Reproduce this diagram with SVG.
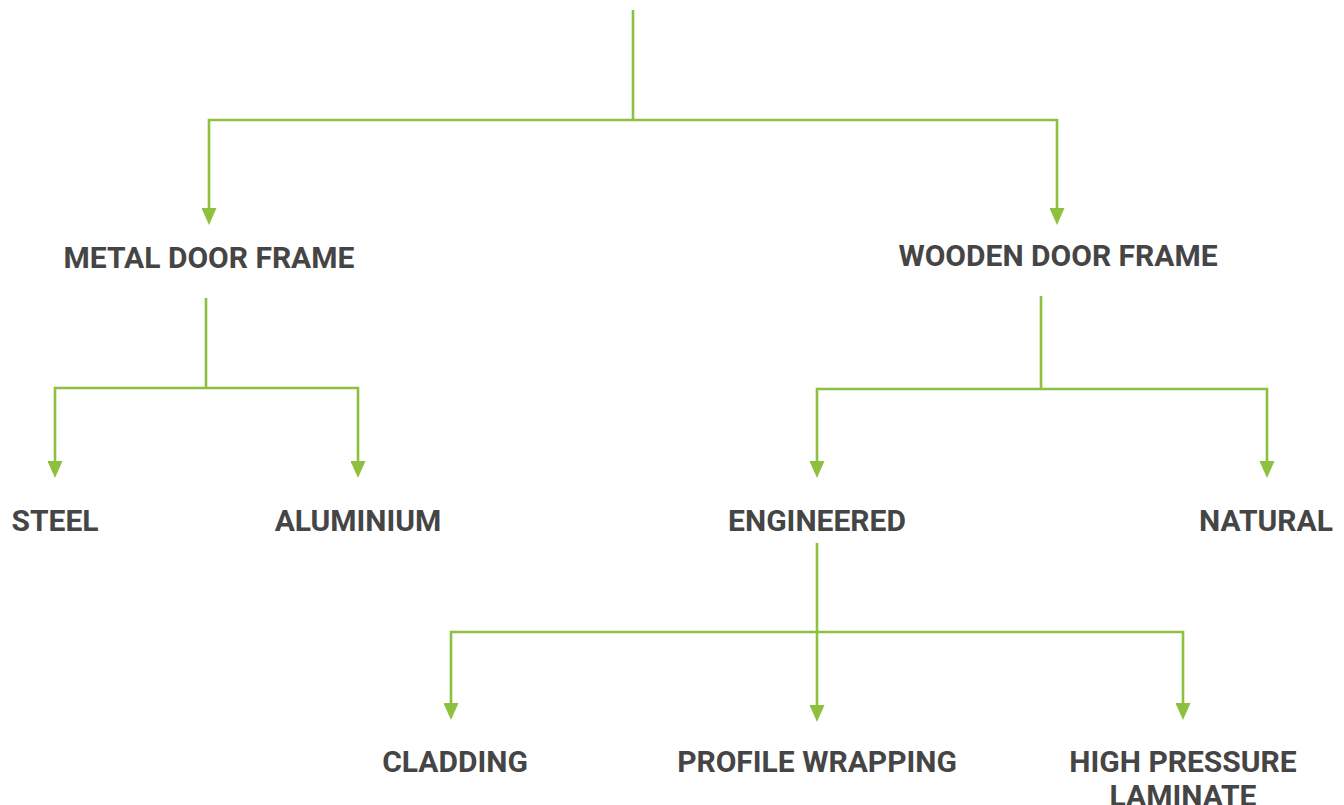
<svg xmlns="http://www.w3.org/2000/svg" width="1344" height="805" viewBox="0 0 1344 805">
<style>
.c{fill:none;stroke:#8dc03f;stroke-width:2.6}
.t{font-family:Roboto,"Liberation Sans",sans-serif;font-weight:bold;font-size:30px;fill:#454545;text-anchor:middle}
</style>
<defs>
<marker id="a" viewBox="0 0 17 15" refX="7" refY="7.5" markerWidth="17" markerHeight="15" markerUnits="userSpaceOnUse" orient="auto">
<polygon points="0,0 17,7.5 0,15" fill="#8dc03f"/>
</marker>
</defs>
<rect width="1344" height="805" fill="#fff"/>
<g id="connectors">
<path class="c" d="M633,10 V120"/>
<path class="c" d="M633,120 H209 V215" marker-end="url(#a)"/>
<path class="c" d="M633,120 H1057 V215" marker-end="url(#a)"/>
<path class="c" d="M206,298 V388"/>
<path class="c" d="M206,388 H55 V468" marker-end="url(#a)"/>
<path class="c" d="M206,388 H358 V468" marker-end="url(#a)"/>
<path class="c" d="M1041,296 V389"/>
<path class="c" d="M1041,389 H817 V468" marker-end="url(#a)"/>
<path class="c" d="M1041,389 H1267 V468" marker-end="url(#a)"/>
<path class="c" d="M817,543 V712" marker-end="url(#a)"/>
<path class="c" d="M817,632 H451 V710" marker-end="url(#a)"/>
<path class="c" d="M817,632 H1183 V710" marker-end="url(#a)"/>
</g>
<g id="metal"><text class="t" x="209" y="268">METAL DOOR FRAME</text></g>
<g id="wooden"><text class="t" x="1058" y="266">WOODEN DOOR FRAME</text></g>
<g id="steel"><text class="t" x="55" y="531">STEEL</text></g>
<g id="aluminium"><text class="t" x="358" y="531">ALUMINIUM</text></g>
<g id="engineered"><text class="t" x="817" y="531">ENGINEERED</text></g>
<g id="natural"><text class="t" x="1266" y="531">NATURAL</text></g>
<g id="cladding"><text class="t" x="455" y="772">CLADDING</text></g>
<g id="profile"><text class="t" x="817" y="772">PROFILE WRAPPING</text></g>
<g id="hpl"><text class="t" x="1183" y="772">HIGH PRESSURE</text><text class="t" x="1183" y="806">LAMINATE</text></g>
</svg>
